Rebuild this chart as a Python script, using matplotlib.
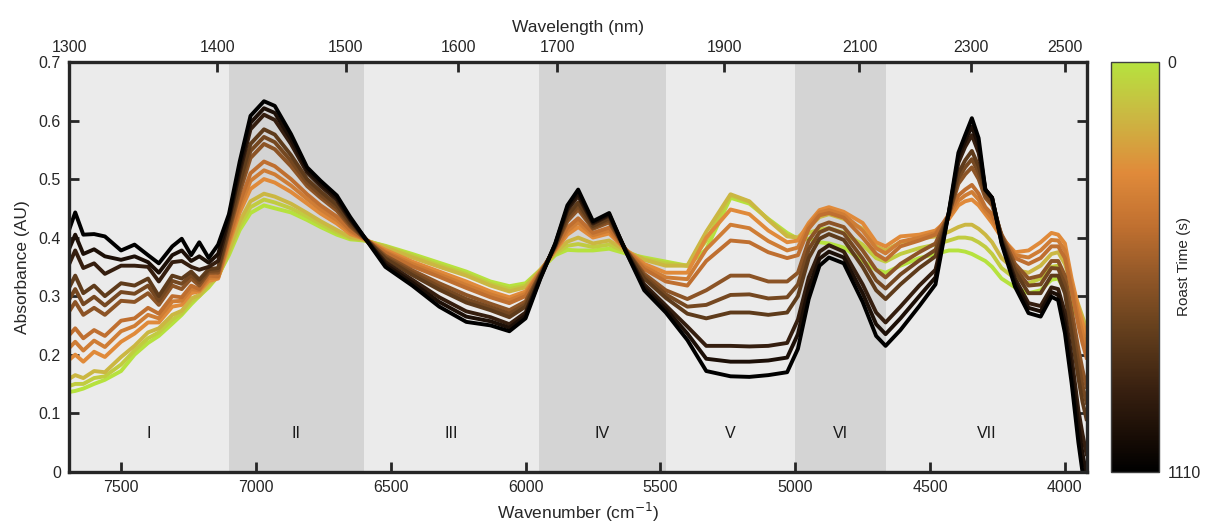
import numpy as np
import matplotlib
matplotlib.use('Agg')
import matplotlib.pyplot as plt
from matplotlib.colors import LinearSegmentedColormap, Normalize
from matplotlib.cm import ScalarMappable

plt.rcParams['font.family'] = ['Liberation Sans', 'DejaVu Sans']

# NIR spectra of coffee beans at several roast times
wavenumber = np.array([
    7695, 7670, 7640, 7600, 7560, 7500, 7450, 7400, 7360, 7310,
    7275, 7240, 7210, 7175, 7140, 7100, 7060, 7020, 6970, 6930,
    6870, 6810, 6760, 6700, 6650, 6600, 6520, 6420, 6320, 6220,
    6130, 6060, 6000, 5945, 5890, 5845, 5805, 5750, 5690, 5630,
    5560, 5480, 5400, 5330, 5240, 5170, 5100, 5030, 4990, 4950,
    4910, 4875, 4820, 4750, 4700, 4665, 4610, 4540, 4480, 4430,
    4395, 4370, 4345, 4320, 4295, 4270, 4235, 4185, 4135, 4090,
    4050, 4025, 4000, 3975, 3950, 3935, 3920])

roast_time = [0, 75, 150, 300, 375, 450, 600, 675, 750, 900, 1000, 1110]

spec_0 = [
    .136, .138, .142, .150, .157, .172, .200, .220, .232, .253,
    .268, .286, .300, .315, .335, .370, .413, .442, .455, .450,
    .443, .430, .418, .405, .397, .395, .386, .372, .357, .342,
    .325, .317, .322, .345, .370, .379, .378, .378, .381, .373,
    .366, .359, .352, .380, .468, .458, .432, .408, .398, .398,
    .392, .390, .383, .360, .345, .340, .352, .365, .372, .378,
    .378, .376, .372, .366, .360, .350, .330, .315, .305, .310,
    .328, .330, .310, .285, .260, .245, .230]
spec_75 = [
    .146, .150, .150, .160, .163, .183, .207, .228, .238, .260,
    .271, .291, .300, .318, .333, .375, .420, .452, .465, .460,
    .450, .436, .423, .409, .399, .396, .385, .369, .353, .338,
    .321, .312, .318, .345, .372, .386, .389, .384, .388, .376,
    .364, .356, .352, .395, .472, .461, .431, .405, .399, .408,
    .414, .416, .408, .388, .365, .359, .372, .382, .388, .395,
    .400, .400, .398, .392, .384, .372, .348, .330, .322, .330,
    .350, .352, .333, .302, .272, .255, .238]
spec_150 = [
    .158, .165, .160, .172, .170, .196, .215, .238, .245, .268,
    .275, .296, .302, .322, .332, .380, .428, .462, .475, .470,
    .458, .442, .428, .413, .401, .397, .383, .366, .350, .335,
    .318, .308, .315, .345, .375, .393, .400, .390, .395, .378,
    .362, .352, .352, .410, .474, .462, .430, .402, .400, .418,
    .435, .440, .432, .415, .385, .378, .392, .398, .402, .410,
    .418, .422, .422, .415, .405, .392, .365, .345, .340, .352,
    .372, .375, .355, .320, .285, .265, .245]
spec_300 = [
    .190, .200, .188, .205, .196, .222, .236, .255, .255, .282,
    .285, .305, .308, .326, .330, .390, .443, .483, .500, .494,
    .478, .458, .441, .424, .406, .398, .379, .359, .342, .325,
    .308, .298, .308, .343, .378, .405, .418, .400, .407, .380,
    .355, .340, .340, .400, .448, .440, .412, .392, .395, .425,
    .447, .452, .444, .425, .392, .385, .402, .405, .412, .432,
    .455, .462, .465, .455, .440, .425, .400, .375, .378, .392,
    .408, .405, .390, .330, .280, .255, .235]
spec_375 = [
    .210, .222, .207, .224, .213, .240, .249, .268, .262, .291,
    .292, .312, .310, .331, .332, .395, .452, .497, .515, .508,
    .489, .466, .448, .430, .410, .398, .376, .355, .337, .319,
    .303, .293, .304, .342, .380, .411, .426, .404, .412, .380,
    .350, .332, .329, .380, .422, .416, .394, .378, .383, .420,
    .443, .447, .439, .412, .382, .373, .393, .400, .408, .436,
    .463, .472, .478, .465, .446, .432, .402, .370, .366, .378,
    .396, .395, .378, .320, .265, .238, .215]
spec_450 = [
    .232, .245, .228, .242, .232, .258, .262, .280, .270, .300,
    .298, .318, .312, .335, .334, .400, .460, .510, .530, .522,
    .500, .474, .455, .436, .413, .399, .374, .351, .333, .314,
    .298, .288, .300, .341, .381, .417, .433, .408, .417, .380,
    .346, .325, .318, .360, .395, .392, .375, .365, .370, .415,
    .438, .442, .434, .400, .372, .362, .385, .395, .405, .440,
    .472, .482, .490, .475, .452, .440, .405, .365, .355, .365,
    .385, .385, .365, .310, .250, .220, .195]
spec_600 = [
    .272, .290, .268, .280, .268, .292, .290, .305, .285, .318,
    .312, .330, .318, .340, .340, .410, .477, .536, .560, .551,
    .522, .488, .468, .446, .419, .400, .369, .344, .322, .302,
    .287, .276, .291, .339, .384, .428, .448, .415, .426, .380,
    .338, .310, .295, .310, .335, .335, .325, .325, .340, .395,
    .420, .426, .418, .378, .345, .332, .355, .375, .390, .440,
    .492, .508, .520, .500, .468, .455, .405, .355, .330, .335,
    .360, .360, .335, .275, .210, .175, .145]
spec_675 = [
    .292, .312, .286, .299, .284, .307, .304, .318, .292, .326,
    .321, .336, .323, .343, .344, .415, .485, .548, .572, .563,
    .531, .494, .473, .451, .422, .400, .366, .340, .316, .295,
    .281, .270, .286, .337, .385, .433, .454, .417, .430, .380,
    .334, .303, .282, .285, .302, .303, .296, .298, .320, .380,
    .409, .416, .407, .364, .327, .313, .337, .361, .379, .440,
    .501, .520, .534, .511, .474, .460, .402, .348, .318, .320,
    .348, .347, .320, .255, .185, .148, .118]
spec_750 = [
    .312, .335, .305, .318, .300, .322, .318, .330, .300, .335,
    .330, .342, .328, .346, .348, .420, .494, .560, .585, .576,
    .541, .500, .479, .456, .425, .401, .364, .336, .311, .289,
    .276, .264, .282, .336, .386, .438, .460, .420, .433, .380,
    .330, .297, .270, .262, .272, .272, .268, .272, .300, .365,
    .398, .406, .396, .350, .310, .295, .320, .348, .368, .440,
    .510, .532, .548, .522, .480, .465, .400, .342, .305, .305,
    .335, .335, .305, .235, .160, .120, .090]
spec_900 = [
    .352, .378, .348, .356, .338, .352, .352, .350, .325, .358,
    .360, .350, .345, .350, .360, .430, .511, .585, .610, .601,
    .560, .511, .488, .464, .430, .401, .358, .328, .298, .274,
    .264, .252, .272, .333, .388, .447, .471, .424, .438, .379,
    .320, .284, .248, .215, .215, .214, .215, .220, .260, .332,
    .376, .387, .376, .320, .272, .255, .282, .318, .345, .443,
    .528, .555, .575, .545, .482, .468, .395, .330, .288, .283,
    .315, .312, .272, .195, .105, .065, .030]
spec_1000 = [
    .378, .405, .372, .380, .368, .362, .368, .358, .340, .370,
    .378, .360, .368, .357, .372, .435, .520, .596, .621, .613,
    .568, .515, .492, .468, .432, .402, .354, .323, .290, .265,
    .257, .246, .267, .331, .389, .451, .476, .426, .440, .378,
    .315, .278, .236, .193, .188, .188, .190, .195, .235, .314,
    .364, .376, .366, .305, .252, .235, .262, .300, .332, .444,
    .536, .565, .590, .557, .482, .468, .392, .323, .280, .274,
    .307, .302, .254, .173, .078, .032, -.005]
spec_1110 = [
    .410, .443, .405, .406, .402, .378, .388, .370, .356, .385,
    .398, .370, .392, .365, .388, .440, .530, .608, .633, .625,
    .577, .520, .497, .472, .435, .402, .350, .318, .282, .256,
    .250, .240, .262, .330, .390, .455, .482, .428, .442, .378,
    .310, .272, .225, .172, .163, .162, .165, .170, .210, .295,
    .352, .366, .356, .290, .232, .215, .242, .283, .320, .445,
    .545, .575, .604, .570, .482, .468, .390, .316, .271, .265,
    .299, .293, .237, .151, .050, .000, -.040]

spectra = [spec_0, spec_75, spec_150, spec_300, spec_375, spec_450,
           spec_600, spec_675, spec_750, spec_900, spec_1000, spec_1110]

region_edges = [7692, 7100, 6600, 5950, 5480, 5000, 4665, 3918]
region_names = ['I', 'II', 'III', 'IV', 'V', 'VI', 'VII']

wavelength_ticks = [1300, 1400, 1500, 1600, 1700, 1900, 2100, 2300, 2500]

roast_cmap = LinearSegmentedColormap.from_list('roast', [
    (0.00, '#b6e23e'),
    (0.13, '#cbb842'),
    (0.27, '#e08a3a'),
    (0.40, '#c07030'),
    (0.52, '#935828'),
    (0.65, '#66401d'),
    (0.80, '#382010'),
    (0.92, '#170c05'),
    (1.00, '#000000'),
])
norm = Normalize(vmin=0, vmax=1110)

dark = '#262626'

fig = plt.figure(figsize=(12.07, 5.29), dpi=100)
ax = fig.add_axes([0.0574, 0.1083, 0.8432, 0.7745])
cax = fig.add_axes([0.9205, 0.1083, 0.0398, 0.7745])

# alternating shaded regions
for i in range(len(region_names)):
    shade = '#ebebeb' if i % 2 == 0 else '#d4d4d4'
    ax.axvspan(region_edges[i], region_edges[i + 1], color=shade, lw=0, zorder=0)
    ax.text((region_edges[i] + region_edges[i + 1]) / 2, 0.066, region_names[i],
            ha='center', va='center', fontsize=11.5, color='#1a1a1a', zorder=1)

for t, spec in zip(roast_time, spectra):
    ax.plot(wavenumber, spec, color=roast_cmap(norm(t)), lw=2.8,
            solid_joinstyle='round', zorder=2)

ax.set_xlim(7692, 3918)
ax.set_ylim(0, 0.7)
ax.set_xticks([7500, 7000, 6500, 6000, 5500, 5000, 4500, 4000])
ax.set_yticks(np.arange(0, 0.71, 0.1))
ax.set_yticklabels(['0', '0.1', '0.2', '0.3', '0.4', '0.5', '0.6', '0.7'])
ax.tick_params(axis='both', direction='in', length=7, width=2, colors=dark,
               labelsize=11.5, labelcolor=dark, pad=6)
ax.tick_params(axis='y', right=True)
ax.tick_params(axis='x', top=False)
for s in ax.spines.values():
    s.set_linewidth(2.4)
    s.set_color(dark)
ax.set_xlabel('Wavenumber (cm$^{-1}$)', fontsize=12.5, color=dark, labelpad=4)
ax.set_ylabel('Absorbance (AU)', fontsize=12.5, color=dark, labelpad=6)

# wavelength scale on top
ax2 = ax.twiny()
ax2.set_xlim(ax.get_xlim())
ax2.set_xticks([1e7 / w for w in wavelength_ticks])
ax2.set_xticklabels([str(w) for w in wavelength_ticks])
ax2.tick_params(axis='x', direction='in', length=7, width=2, colors=dark,
                labelsize=11.5, labelcolor=dark, pad=5)
for s in ax2.spines.values():
    s.set_visible(False)
ax2.set_xlabel('Wavelength (nm)', fontsize=12.5, color=dark, labelpad=6)

# colour bar for roast time, 0 at the top
cb = fig.colorbar(ScalarMappable(norm=norm, cmap=roast_cmap), cax=cax, ticks=[0, 1110])
cax.invert_yaxis()
cb.ax.tick_params(length=0, labelsize=11.5, labelcolor=dark, pad=6)
cb.outline.set_edgecolor('#404040')
cb.outline.set_linewidth(1.0)
cb.set_label('Roast Time (s)', fontsize=11, color=dark, labelpad=-17)

fig.savefig('out.png', dpi=100, facecolor='white')
